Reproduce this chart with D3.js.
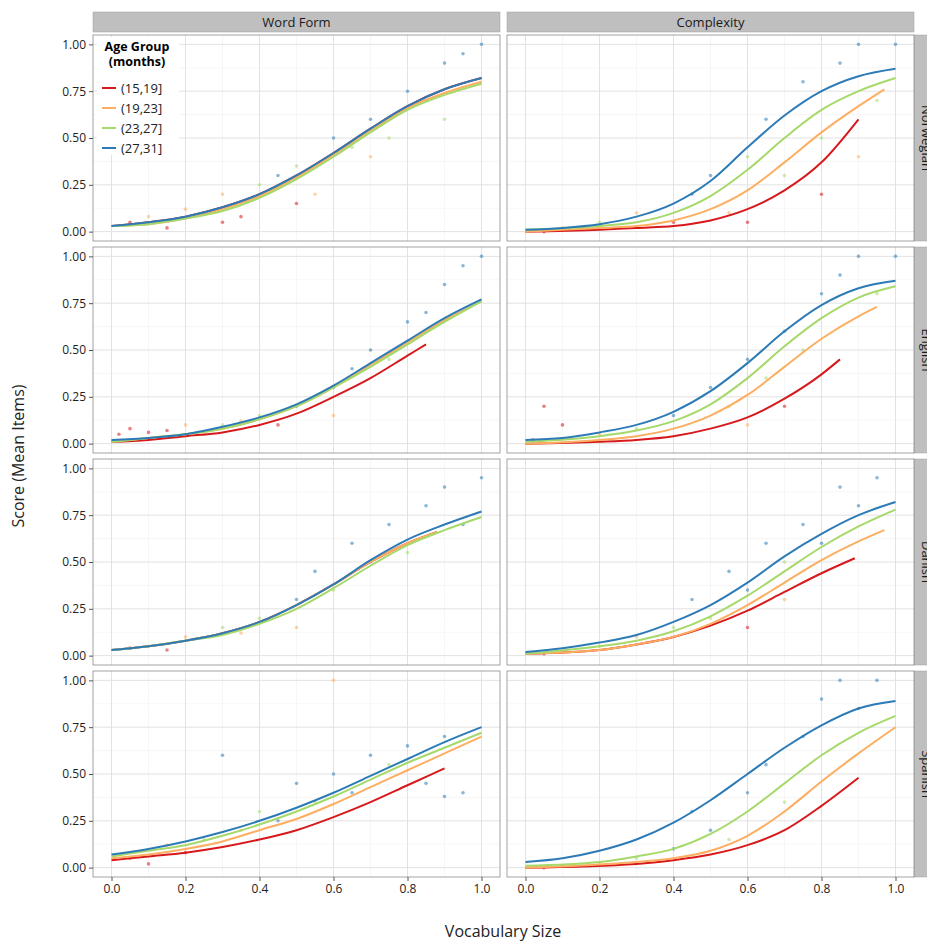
<!DOCTYPE html>
<html><head><meta charset="utf-8">
<script src="https://cdn.jsdelivr.net/npm/d3@7"></script>
<style>body{margin:0;background:#fff}text{font-family:"Open Sans",sans-serif}</style>
</head><body><svg id="c" width="927" height="941"></svg>
<script>
const measures = ["Word Form","Complexity"];
const languages = ["Norwegian","English","Danish","Spanish"];
const groups = ["(15,19]","(19,23]","(23,27]","(27,31]"];
const colors = ["#d7191c","#fdae61","#a6d96a","#2c7bb6"];
const xTicks = [0,0.2,0.4,0.6,0.8,1.0];
const yTicks = [0,0.25,0.5,0.75,1.0];
const curves = {
 Norwegian:{
  "Word Form":[
   [[0,.03],[.1,.05],[.2,.08],[.3,.13],[.4,.2],[.5,.3],[.6,.42],[.7,.55],[.8,.67],[.9,.76],[1,.82]],
   [[0,.03],[.1,.04],[.2,.07],[.3,.12],[.4,.19],[.5,.29],[.6,.41],[.7,.54],[.8,.66],[.9,.74],[1,.80]],
   [[0,.03],[.1,.04],[.2,.07],[.3,.11],[.4,.18],[.5,.28],[.6,.4],[.7,.53],[.8,.65],[.9,.73],[1,.79]],
   [[0,.03],[.1,.05],[.2,.08],[.3,.13],[.4,.2],[.5,.3],[.6,.42],[.7,.55],[.8,.67],[.9,.76],[1,.82]]],
  "Complexity":[
   [[0,0],[.2,.01],[.3,.02],[.4,.03],[.5,.06],[.6,.12],[.7,.22],[.8,.37],[.9,.6]],
   [[0,0],[.2,.02],[.3,.03],[.4,.06],[.5,.12],[.6,.22],[.7,.37],[.8,.53],[.9,.67],[.97,.76]],
   [[0,.01],[.2,.03],[.3,.05],[.4,.1],[.5,.19],[.6,.33],[.7,.5],[.8,.65],[.9,.75],[1,.82]],
   [[0,.01],[.1,.02],[.2,.04],[.3,.08],[.4,.15],[.5,.27],[.6,.45],[.7,.62],[.8,.75],[.9,.83],[1,.87]]]},
 English:{
  "Word Form":[
   [[0,.01],[.1,.02],[.2,.04],[.3,.06],[.4,.1],[.5,.16],[.6,.25],[.7,.35],[.8,.47],[.85,.53]],
   [[0,.01],[.1,.03],[.2,.05],[.3,.08],[.4,.13],[.5,.2],[.6,.3],[.7,.42],[.8,.54],[.9,.66],[1,.76]],
   [[0,.01],[.1,.03],[.2,.05],[.3,.08],[.4,.13],[.5,.2],[.6,.3],[.7,.41],[.8,.53],[.9,.65],[1,.76]],
   [[0,.02],[.1,.03],[.2,.05],[.3,.09],[.4,.14],[.5,.21],[.6,.31],[.7,.43],[.8,.55],[.9,.67],[1,.77]]],
  "Complexity":[
   [[0,0],[.2,.01],[.3,.02],[.4,.04],[.5,.08],[.6,.14],[.7,.24],[.8,.37],[.85,.45]],
   [[0,0],[.2,.02],[.3,.04],[.4,.08],[.5,.15],[.6,.26],[.7,.41],[.8,.56],[.9,.68],[.95,.73]],
   [[0,.01],[.2,.04],[.3,.07],[.4,.12],[.5,.21],[.6,.35],[.7,.52],[.8,.67],[.9,.78],[1,.84]],
   [[0,.02],[.1,.03],[.2,.06],[.3,.1],[.4,.17],[.5,.28],[.6,.43],[.7,.6],[.8,.74],[.9,.83],[1,.87]]]},
 Danish:{
  "Word Form":[
   [[0,.03],[.1,.05],[.2,.08],[.3,.12],[.4,.18],[.5,.27],[.6,.38],[.7,.5],[.8,.6],[.88,.66]],
   [[0,.03],[.1,.05],[.2,.08],[.3,.12],[.4,.18],[.5,.27],[.6,.38],[.7,.5],[.8,.6],[.88,.66]],
   [[0,.03],[.1,.05],[.2,.08],[.3,.11],[.4,.17],[.5,.25],[.6,.36],[.7,.48],[.8,.59],[.9,.67],[1,.74]],
   [[0,.03],[.1,.05],[.2,.08],[.3,.12],[.4,.18],[.5,.27],[.6,.38],[.7,.51],[.8,.62],[.9,.70],[1,.77]]],
  "Complexity":[
   [[0,.01],[.2,.03],[.3,.06],[.4,.1],[.5,.16],[.6,.24],[.7,.34],[.8,.44],[.89,.52]],
   [[0,.01],[.2,.03],[.3,.06],[.4,.1],[.5,.17],[.6,.27],[.7,.39],[.8,.51],[.9,.61],[.97,.67]],
   [[0,.01],[.2,.05],[.3,.08],[.4,.13],[.5,.21],[.6,.32],[.7,.45],[.8,.58],[.9,.69],[1,.78]],
   [[0,.02],[.1,.04],[.2,.07],[.3,.11],[.4,.18],[.5,.27],[.6,.39],[.7,.53],[.8,.65],[.9,.75],[1,.82]]]},
 Spanish:{
  "Word Form":[
   [[0,.04],[.1,.06],[.2,.08],[.3,.11],[.4,.15],[.5,.2],[.6,.27],[.7,.35],[.8,.44],[.9,.53]],
   [[0,.05],[.1,.07],[.2,.1],[.3,.14],[.4,.2],[.5,.26],[.6,.34],[.7,.43],[.8,.52],[.9,.61],[1,.7]],
   [[0,.06],[.1,.09],[.2,.12],[.3,.17],[.4,.23],[.5,.3],[.6,.38],[.7,.47],[.8,.56],[.9,.64],[1,.72]],
   [[0,.07],[.1,.1],[.2,.14],[.3,.19],[.4,.25],[.5,.32],[.6,.4],[.7,.49],[.8,.58],[.9,.67],[1,.75]]],
  "Complexity":[
   [[0,0],[.3,.02],[.4,.04],[.5,.07],[.6,.12],[.7,.2],[.8,.33],[.9,.48]],
   [[0,0],[.3,.03],[.4,.05],[.5,.09],[.6,.17],[.7,.3],[.8,.46],[.9,.61],[1,.75]],
   [[0,.01],[.2,.03],[.3,.06],[.4,.1],[.5,.18],[.6,.3],[.7,.45],[.8,.6],[.9,.72],[1,.81]],
   [[0,.03],[.1,.05],[.2,.09],[.3,.15],[.4,.24],[.5,.36],[.6,.5],[.7,.64],[.8,.76],[.9,.85],[1,.89]]]}
};
const points = {
 Norwegian:{"Word Form":[[.05,.05,0],[.1,.08,1],[.15,.02,0],[.2,.12,1],[.25,.1,2],[.3,.2,1],[.35,.08,0],[.4,.25,2],[.45,.3,3],[.5,.35,2],[.55,.2,1],[.6,.5,3],[.65,.45,2],[.7,.6,3],[.75,.5,2],[.8,.75,3],[.85,.7,3],[.9,.9,3],[.95,.95,3],[1,1,3],[.9,.6,2],[.7,.4,1],[.5,.15,0],[.3,.05,0]],
  "Complexity":[[.05,0,0],[.1,.02,1],[.2,.05,2],[.3,.1,1],[.4,.05,0],[.45,.2,3],[.5,.3,3],[.55,.1,1],[.6,.4,2],[.65,.6,3],[.7,.3,2],[.75,.8,3],[.8,.5,2],[.85,.9,3],[.9,1,3],[.95,.7,2],[1,1,3],[.6,.05,0],[.8,.2,0],[.9,.4,1]]},
 English:{"Word Form":[[.02,.05,0],[.05,.08,0],[.1,.06,0],[.15,.07,0],[.2,.1,1],[.25,.05,1],[.3,.1,2],[.35,.12,1],[.4,.15,2],[.5,.2,3],[.55,.25,2],[.6,.3,3],[.65,.4,3],[.7,.5,3],[.75,.45,2],[.8,.65,3],[.85,.7,3],[.9,.85,3],[.95,.95,3],[1,1,3],[.6,.15,1],[.45,.1,0]],
  "Complexity":[[.02,.02,0],[.05,.2,0],[.1,.1,0],[.2,.05,1],[.3,.08,2],[.4,.15,3],[.5,.3,3],[.55,.2,2],[.6,.45,3],[.65,.35,2],[.7,.6,3],[.75,.5,2],[.8,.8,3],[.85,.9,3],[.9,1,3],[.95,.8,2],[1,1,3],[.6,.1,1],[.7,.2,0]]},
 Danish:{"Word Form":[[.05,.04,0],[.1,.05,1],[.15,.03,0],[.2,.1,1],[.3,.15,2],[.35,.12,1],[.4,.2,2],[.5,.3,3],[.55,.45,3],[.6,.35,2],[.65,.6,3],[.7,.5,3],[.75,.7,3],[.8,.55,2],[.85,.8,3],[.9,.9,3],[.95,.7,3],[1,.95,3],[.5,.15,1]],
  "Complexity":[[.05,.01,0],[.1,.02,1],[.2,.05,2],[.3,.1,1],[.4,.15,2],[.45,.3,3],[.5,.2,2],[.55,.45,3],[.6,.35,3],[.65,.6,3],[.7,.5,2],[.75,.7,3],[.8,.6,3],[.85,.9,3],[.9,.8,3],[.95,.95,3],[.6,.15,0],[.7,.3,1]]},
 Spanish:{"Word Form":[[.05,.05,0],[.1,.02,0],[.15,.12,1],[.2,.08,0],[.25,.15,2],[.3,.6,3],[.35,.2,1],[.4,.3,2],[.45,.25,3],[.5,.45,3],[.55,.35,2],[.6,.5,3],[.65,.4,3],[.7,.6,3],[.75,.55,2],[.8,.65,3],[.85,.45,3],[.9,.7,3],[.9,.38,3],[.95,.4,3],[.6,1,1]],
  "Complexity":[[.05,0,0],[.1,.01,0],[.2,.02,1],[.3,.05,2],[.4,.1,3],[.45,.3,3],[.5,.2,3],[.55,.15,2],[.6,.4,3],[.65,.55,3],[.7,.35,2],[.75,.7,3],[.8,.9,3],[.85,1,3],[.9,.85,3],[.95,1,3]]}
};

const svg = d3.select("#c");
const colX = [93, 507], pw = 407;
const rowY = [35, 247, 459, 671], ph = 206;
const x = d3.scaleLinear().domain([-0.05,1.05]).range([0,pw]);
const y = d3.scaleLinear().domain([-0.05,1.05]).range([ph,0]);
const line = d3.line().x(d=>x(d[0])).y(d=>y(d[1])).curve(d3.curveMonotoneX);

measures.forEach((m,ci)=>{
  const g = svg.append("g").attr("transform",`translate(${colX[ci]},12)`);
  g.append("rect").attr("width",pw).attr("height",20).attr("fill","#bfbfbf").attr("stroke","#a0a0a0").attr("stroke-width",0.5);
  g.append("text").attr("x",pw/2).attr("y",15).attr("text-anchor","middle").attr("font-size",13).attr("fill","#1a1a1a").text(m);
});
languages.forEach((l,ri)=>{
  const g = svg.append("g").attr("transform",`translate(914,${rowY[ri]})`);
  g.append("rect").attr("width",24).attr("height",ph).attr("fill","#bfbfbf").attr("stroke","#a0a0a0").attr("stroke-width",0.5);
  g.append("text").attr("transform",`translate(13,${ph/2}) rotate(90)`).attr("text-anchor","middle").attr("dy","0.35em").attr("font-size",13).attr("fill","#1a1a1a").text(l);
});

languages.forEach((l,ri)=>{
  measures.forEach((m,ci)=>{
    const g = svg.append("g").attr("transform",`translate(${colX[ci]},${rowY[ri]})`);
    g.append("rect").attr("width",pw).attr("height",ph).attr("fill","#fff");
    [0.1,0.3,0.5,0.7,0.9].forEach(t=>g.append("line").attr("x1",x(t)).attr("x2",x(t)).attr("y1",0).attr("y2",ph).attr("stroke","#f0f0f0").attr("stroke-width",0.6));
    [0.125,0.375,0.625,0.875].forEach(t=>g.append("line").attr("y1",y(t)).attr("y2",y(t)).attr("x1",0).attr("x2",pw).attr("stroke","#f0f0f0").attr("stroke-width",0.6));
    xTicks.forEach(t=>g.append("line").attr("x1",x(t)).attr("x2",x(t)).attr("y1",0).attr("y2",ph).attr("stroke","#e2e2e2").attr("stroke-width",1));
    yTicks.forEach(t=>g.append("line").attr("y1",y(t)).attr("y2",y(t)).attr("x1",0).attr("x2",pw).attr("stroke","#e2e2e2").attr("stroke-width",1));
    g.selectAll("circle.p").data(points[l][m]).join("circle").attr("cx",d=>x(d[0])).attr("cy",d=>y(d[1])).attr("r",1.8).attr("fill",d=>colors[d[2]]).attr("opacity",0.55);
    curves[l][m].forEach((c,gi)=>g.append("path").attr("d",line(c)).attr("fill","none").attr("stroke",colors[gi]).attr("stroke-width",2));
    g.append("rect").attr("width",pw).attr("height",ph).attr("fill","none").attr("stroke","#8c8c8c").attr("stroke-width",0.8);
    if(ci===0){
      const ax = g.append("g").call(d3.axisLeft(y).tickValues(yTicks).tickFormat(d3.format(".2f")).tickSize(4));
      ax.select(".domain").remove();
      ax.selectAll("line").attr("stroke","#555");
      ax.selectAll("text").attr("font-size",12).attr("fill","#222").attr("font-family","Open Sans");
    }
    if(ri===3){
      const ax = g.append("g").attr("transform",`translate(0,${ph})`).call(d3.axisBottom(x).tickValues(xTicks).tickFormat(d3.format(".1f")).tickSize(4));
      ax.select(".domain").remove();
      ax.selectAll("line").attr("stroke","#555");
      ax.selectAll("text").attr("font-size",12).attr("fill","#222").attr("font-family","Open Sans");
    }
    if(ri===0&&ci===0){
      const lg = g.append("g").attr("transform","translate(4,2)");
      lg.append("rect").attr("width",82).attr("height",118).attr("fill","#fff");
      lg.append("text").attr("x",40).attr("y",14).attr("text-anchor","middle").attr("font-size",12.5).attr("font-weight","bold").text("Age Group");
      lg.append("text").attr("x",40).attr("y",29).attr("text-anchor","middle").attr("font-size",12.5).attr("font-weight","bold").text("(months)");
      groups.forEach((gr,i)=>{
        lg.append("line").attr("x1",5).attr("x2",19).attr("y1",51+i*20).attr("y2",51+i*20).attr("stroke",colors[i]).attr("stroke-width",2);
        lg.append("text").attr("x",24).attr("y",51+i*20).attr("dy","0.35em").attr("font-size",13).attr("fill","#222").text(gr);
      });
    }
  });
});
svg.append("text").attr("transform","translate(24,456) rotate(-90)").attr("text-anchor","middle").attr("font-size",16).attr("fill","#222").text("Score (Mean Items)");
svg.append("text").attr("x",503).attr("y",937).attr("text-anchor","middle").attr("font-size",16).attr("fill","#222").text("Vocabulary Size");
</script></body></html>
